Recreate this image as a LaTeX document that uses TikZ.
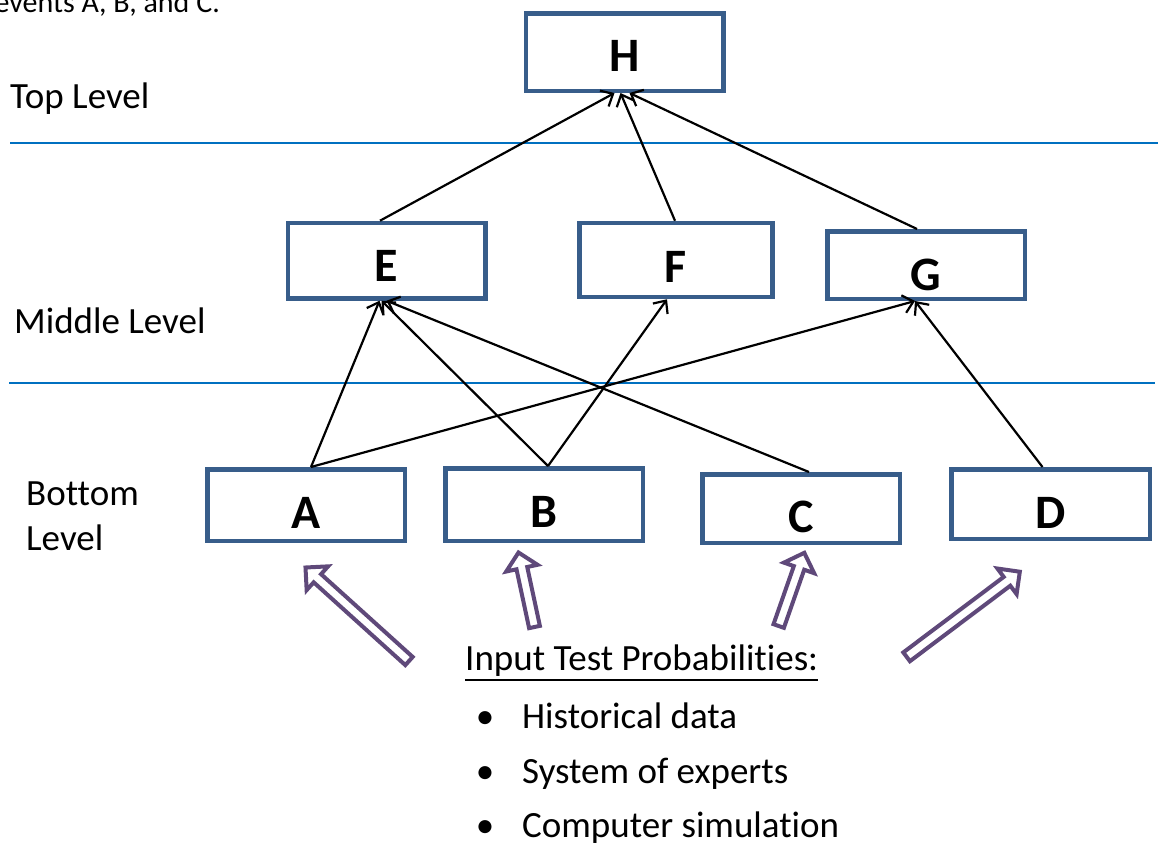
\documentclass[tikz,border=0pt]{standalone}
\usepackage{fontspec}
\setmainfont[Ligatures={NoCommon}]{Carlito}
\usetikzlibrary{arrows.meta,calc}

\definecolor{boxblue}{RGB}{56,93,138}
\definecolor{levelrule}{RGB}{0,112,192}
\definecolor{inputpurple}{RGB}{95,73,122}

% hollow block arrow from tail point #1 to tip point #2
\newcommand\inputarrow[2]{%
  \coordinate (ia-t) at (#1);
  \coordinate (ia-p) at (#2);
  \coordinate (ia-b) at ($(ia-p)!16pt!(ia-t)$);
  \draw[inarrow] ($(ia-t)!5.5pt!90:(ia-p)$) -- ($(ia-b)!5.5pt!90:(ia-p)$)
    -- ($(ia-b)!16pt!90:(ia-p)$) -- (ia-p) -- ($(ia-b)!16pt!-90:(ia-p)$)
    -- ($(ia-b)!5.5pt!-90:(ia-p)$) -- ($(ia-t)!5.5pt!-90:(ia-p)$) -- cycle;%
}

\begin{document}
\begin{tikzpicture}[x=1pt,y=-1pt,
  box/.style={draw=boxblue, line width=4.5pt, fill=white, rectangle,
    inner sep=0pt, minimum width=197.5pt},
  lab/.style={font=\fontsize{48}{50}\selectfont\bfseries, inner sep=0pt},
  txt/.style={font=\fontsize{37}{44}\selectfont, inner sep=0pt, anchor=base west},
  conn/.style={draw=black, line width=2.2pt,
    -{Straight Barb[length=10pt,width=18pt]}},
  rulestyle/.style={draw=levelrule, line width=2.2pt},
  inarrow/.style={draw=inputpurple, fill=white, line width=4pt, line join=miter}]

\useasboundingbox (0,0) rectangle (1158,844);
\clip (0,0) rectangle (1158,844);

% caption fragment running off the top edge
\node[font=\fontsize{30}{36}\selectfont, inner sep=0pt, anchor=base east]
  (caption) at (220,12.7) {events A, B, and C.};

% level separators and level names
\draw[rulestyle] (10,143) -- (1158,143);
\draw[rulestyle] (9,383) -- (1155,383);
\node[txt] (toplevel) at (10,108) {Top Level};
\node[txt] (midlevel) at (14,333) {Middle Level};
\node[txt] (botlevel1) at (26,505) {Bottom};
\node[txt] (botlevel2) at (26,550) {Level};

% event boxes
\node[box, minimum height=77.5pt, label={[lab,yshift=-4pt]center:H}] (H) at (624.5,52) {};
\node[box, minimum height=75.5pt, label={[lab,yshift=-5.5pt]center:E}] (E) at (386.5,260.7) {};
\node[box, minimum width=193pt, minimum height=74pt, label={[lab,yshift=-7pt]center:F}] (F) at (676,260) {};
\node[box, minimum height=67.5pt, label={[lab,yshift=-10pt]center:G}] (G) at (926,265) {};
\node[box, minimum height=71.5pt, label={[lab,yshift=-8pt]center:A}] (A) at (306,505) {};
\node[box, minimum height=72.5pt, label={[lab,yshift=-7pt]center:B}] (B) at (544,504.5) {};
\node[box, minimum height=68.5pt, label={[lab,yshift=-8.5pt]center:C}] (C) at (801,508.5) {};
\node[box, minimum width=198.5pt, minimum height=69.5pt, label={[lab,yshift=-9pt]center:D}] (D) at (1050.5,504) {};

% middle level to top level
\draw[conn] ([xshift=-6.5pt]E.north) -- ([xshift=-10pt]H.south);
\draw[conn] ([xshift=-1pt]F.north) -- ([xshift=-4pt]H.south);
\draw[conn] ([xshift=-9pt]G.north) -- ([xshift=5pt]H.south);

% bottom level to middle level
\draw[conn] ([xshift=5pt]A.north) -- ([xshift=-7pt]E.south);
\draw[conn] ([xshift=4pt]B.north) -- ([xshift=-5pt]E.south);
\draw[conn] ([xshift=8pt]C.north) -- ([xshift=0pt]E.south);
\draw[conn] ([xshift=4pt]B.north) -- ([xshift=-9pt]F.south);
\draw[conn] ([xshift=5pt]A.north) -- ([xshift=-11pt]G.south);
\draw[conn] ([xshift=-8pt]D.north) -- ([xshift=-11pt]G.south);

% input arrows into the bottom level
\inputarrow{409,661}{305.5,567.5}
\inputarrow{534.5,627}{518.5,552.5}
\inputarrow{778.7,626}{804.3,552.8}
\inputarrow{906.6,656.8}{1019.8,571.7}

% input sources
\node[txt] (inp) at (465,670) {Input Test Probabilities:};
\draw[line width=2pt] ([yshift=-10pt]inp.base west) -- ([yshift=-10pt]inp.base east);
\node[txt] (src1) at (522,728) {\llap{•\hspace{28pt}}Historical data};
\node[txt] (src2) at (522,783) {\llap{•\hspace{28pt}}System of experts};
\node[txt] (src3) at (522,837) {\llap{•\hspace{28pt}}Computer simulation};

\end{tikzpicture}
\end{document}
